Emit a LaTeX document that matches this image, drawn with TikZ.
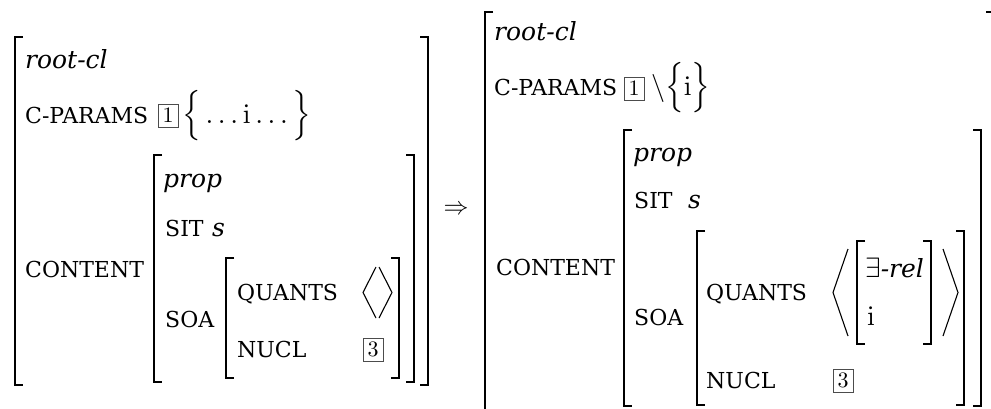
\documentclass[tikz,border=0pt]{standalone}
\usepackage{amsmath}
\usepackage[no-math]{fontspec}
\setmainfont{DejaVu Serif}
\newcommand\avmL[3]{\draw[brk] ({#1+8},#2) -- (#1,#2) -- (#1,#3) -- ({#1+8},#3);}
\newcommand\avmR[3]{\draw[brk] ({#1-8},#2) -- (#1,#2) -- (#1,#3) -- ({#1-8},#3);}
\newcommand\avmmath[1]{\scalebox{2.8}{$#1$}}
\newcommand\tagnum[1]{\scalebox{2.2}{$#1$}}
\tikzset{
  lab/.style={anchor=base west, inner sep=0pt, font=\fontsize{22}{26}\selectfont},
  typ/.style={anchor=base west, inner sep=0pt, font=\fontsize{25}{30}\selectfont\itshape},
  mth/.style={anchor=base west, inner sep=0pt, font=\normalsize},
  tag/.style={draw=black!70, line width=0.8pt, inner sep=0pt, minimum width=20pt, minimum height=23pt, font=\normalsize},
  brk/.style={line width=1.6pt, line cap=butt, line join=miter},
  ang/.style={line width=1.1pt, line join=miter},
}
\begin{document}
\begin{tikzpicture}[x=1pt,y=-1pt]
\useasboundingbox (0,0) rectangle (991,408);
\clip (0,0) rectangle (991,408);
% ---------- left AVM ----------
\avmL{15}{37}{385}   \avmR{428}{37}{385}
\avmL{154}{155}{382} \avmR{414}{155}{382}
\avmL{226}{258}{378} \avmR{399}{258}{378}
\draw[ang] (376,267) -- (363,292.5) -- (376,318);
\draw[ang] (379,267) -- (392,292.5) -- (379,318);
\node[typ] (lroot) at (25,68) {root-cl};
\node[lab] (lcp) at (25,123) {C-PARAMS};
\node[tag] (ltag1) at (168,115.5) {\tagnum{1}};
\node[mth] (lset) at (182,123) {\avmmath{\Big\{\ldots\mathrm{i}\ldots\Big\}}};
\node[typ] (lprop) at (163,187) {prop};
\node[lab] (lsit) at (165,236) {SIT};
\node[typ] (ls) at (212,236) {s};
\node[lab] (lcont) at (25,277) {CONTENT};
\node[lab] (lsoa) at (165,327) {SOA};
\node[lab] (lquants) at (237,300) {QUANTS};
\node[lab] (lnucl) at (237,357) {NUCL};
\node[tag] (ltag3) at (373,349.5) {\tagnum{3}};
% ---------- arrow ----------
\node[mth, anchor=center] (arr) at (456,210) {\scalebox{2.5}{$\Rightarrow$}};
% ---------- right AVM ----------
\avmL{485}{12}{415}  \avmR{994}{12}{415}
\avmL{624}{130}{406} \avmR{981}{130}{406}
\avmL{697}{231}{405} \avmR{964}{231}{405}
\avmL{857}{241}{344} \avmR{931}{241}{344}
\draw[ang] (848,249) -- (833,292.5) -- (848,336);
\draw[ang] (943,249) -- (958,292.5) -- (943,336);
\node[typ] (rroot) at (494,40) {root-cl};
\node[lab] (rcp) at (494,95) {C-PARAMS};
\node[tag] (rtag1) at (634,88.5) {\tagnum{1}};
\node[mth] (rset) at (651,95) {\avmmath{\setminus\Big\{\mathrm{i}\Big\}}};
\node[typ] (rprop) at (633,161) {prop};
\node[lab] (rsit) at (634,208) {SIT};
\node[typ] (rs) at (688,208) {s};
\node[lab] (rcont) at (496,275) {CONTENT};
\node[lab] (rsoa) at (634,325) {SOA};
\node[lab] (rquants) at (706,300) {QUANTS};
\node[lab] (rnucl) at (706,388) {NUCL};
\node[tag] (rtag3) at (843,380.5) {\tagnum{3}};
\node[mth] (rex) at (865,277) {\avmmath{\exists}\textit{\fontsize{25}{30}\selectfont -rel}};
\node[mth] (ri) at (867,325) {\avmmath{\mathrm{i}}};
\end{tikzpicture}
\end{document}
